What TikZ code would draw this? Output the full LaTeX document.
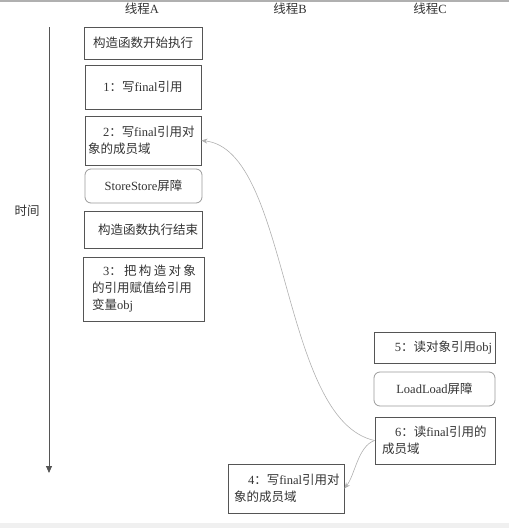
\documentclass[tikz,border=0pt]{standalone}
\usepackage{fontspec}
\setmainfont{Noto Sans CJK SC}
\newfontfamily\enfont{Liberation Serif}
\newcommand{\en}[1]{{\enfont #1}}
\usetikzlibrary{arrows.meta}
\definecolor{txtgray}{HTML}{333333}
\definecolor{boxgray}{HTML}{555555}
\definecolor{bargray}{HTML}{9A9A9A}
\definecolor{curvegray}{HTML}{B0B0B0}
\definecolor{bandgray}{HTML}{F0F0F0}
\begin{document}
\begin{tikzpicture}[x=1pt, y=-1pt, font=\fontsize{12.5}{17}\selectfont]
        \tikzstyle{stepbox} = [draw=boxgray, line width=0.8pt, text=txtgray, inner xsep=3pt, inner ysep=0pt, align=left]
        \tikzstyle{barrier} = [stepbox, draw=bargray, rounded corners=6pt, align=center]
        \tikzstyle{flow} = [draw=curvegray, line width=0.6pt, -{Stealth[length=6pt, width=5pt]}]
        \tikzstyle{lane} = [text=txtgray, inner sep=0pt]
        \useasboundingbox (0,0) rectangle (509,528);
        \fill[curvegray] (0,0) rectangle (509,1.5);
        \fill[bandgray] (0,523) rectangle (509,528);
        % thread headers
        \node[lane] (hA) at (142,9) {线程\en{A}};
        \node[lane] (hB) at (290,9) {线程\en{B}};
        \node[lane] (hC) at (430,9) {线程\en{C}};
        % time axis
        \coordinate (t0) at (49,27);
        \coordinate (t1) at (49,473);
        \draw[boxgray, line width=0.8pt, -{Triangle[length=7pt, width=6pt]}] (t0) -- (t1);
        \node[lane] (time) at (27,211) {时间};
        % thread A
        \node[stepbox, align=center, text width=112pt, minimum height=32pt] (a0) at (143,43) {构造函数开始执行};
        \node[stepbox, align=center, text width=110pt, minimum height=44pt] (a1) at (143,87) {\en{1}：写\en{final}引用};
        \node[stepbox, text width=110pt, minimum height=49pt] (a2) at (143,140.5) {\hspace*{15pt}\en{2}：写\en{final}引用对\\象的成员域};
        \node[barrier, text width=111pt, minimum height=34pt] (ss) at (143.5,186) {\en{StoreStore}屏障};
        \node[stepbox, align=center, text width=112pt, minimum height=37pt] (a3) at (143,229.5) {\hspace*{10pt}构造函数执行结束};
        \node[stepbox, inner xsep=9pt, text width=103pt, minimum height=64pt] (a4) at (143.5,289) {\hspace*{11pt}\makebox[93pt][s]{\en{3}：\hfill 把\hfill 构\hfill 造\hfill 对\hfill 象}\\的引用赋值给引用\\变量\en{obj}};
        % thread C
        \node[stepbox, align=right, text width=115pt, minimum height=31pt] (c5) at (434.5,347.5) {\en{5}：读对象引用\en{obj}};
        \node[barrier, text width=115pt, minimum height=34pt] (ll) at (434.5,389) {\en{LoadLoad}屏障};
        \node[stepbox, inner xsep=7pt, text width=106pt, minimum height=47pt] (c6) at (435,440.5) {\hspace*{13pt}\en{6}：读\en{final}引用的\\成员域};
        % thread B
        \node[stepbox, inner xsep=6pt, text width=104pt, minimum height=49pt] (b4) at (286,488.5) {\hspace*{14pt}\en{4}：写\en{final}引用对\\象的成员域};
        % reorder arrows
        \draw[flow] (c6.west) .. controls (280,420) and (290,150) .. (a2.east);
        \draw[flow] (c6.west) .. controls (358,446) and (355,475) .. (b4.east);
      \end{tikzpicture}
\end{document}
